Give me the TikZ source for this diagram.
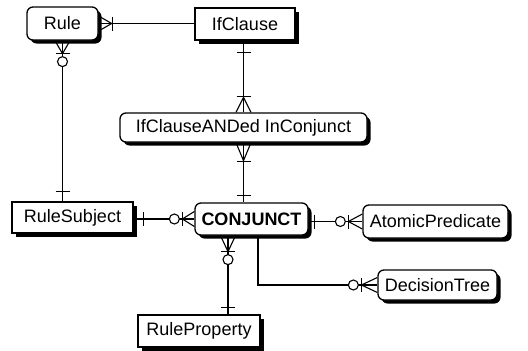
\documentclass[tikz,border=0pt]{standalone}
\usepackage{fontspec}
\setmainfont{Liberation Sans}
\usetikzlibrary{shadows,calc}
\tikzset{
  ent/.style={draw=black, line width=1.3pt, fill=white, inner sep=0pt,
    font=\fontsize{18}{20}\selectfont,
    drop shadow={shadow xshift=3.5pt, shadow yshift=-3.5pt, opacity=1, fill=black}},
  rent/.style={ent, rounded corners=6pt},
  conn/.style={line width=1.1pt},
  pics/crowbar/.style={code={
    \draw[conn] (0,-7.5) -- (#1,0) -- (0,7.5);
    \draw[conn] (0,0) -- (#1,0);
    \draw[conn] (#1+1,-7) -- (#1+1,7);}},
  pics/crowbaro/.style={code={
    \draw[conn] (0,-7.5) -- (#1,0) -- (0,7.5);
    \draw[conn] (0,0) -- (#1,0);
    \draw[conn] (#1,-7) -- (#1,7);
    \draw[conn, fill=white] (#1+8,0) circle (5);}},
  pics/onebar/.style={code={
    \draw[conn] (#1,-7) -- (#1,7);}}
}
\begin{document}
\begin{tikzpicture}[x=1pt,y=-1pt]
\useasboundingbox (0,0) rectangle (528,351);

\node[rent, minimum width=71pt, minimum height=33pt] (rule) at (62.5,23.5) {Rule};
\node[ent, minimum width=100pt, minimum height=32pt] (ifc) at (245,24) {IfClause};
\node[rent, minimum width=247pt, minimum height=29pt] (anded) at (243.5,127.5) {IfClauseANDed InConjunct};
\node[rent, minimum width=113pt, minimum height=32pt, font=\fontsize{18}{20}\selectfont\bfseries] (conj) at (251.5,219) {CONJUNCT};
\node[ent, minimum width=121pt, minimum height=31pt] (rs) at (72.5,217.5) {RuleSubject};
\node[ent, minimum width=122pt, minimum height=32pt] (rp) at (199,331) {RuleProperty};
\node[rent, minimum width=145pt, minimum height=33pt] (ap) at (435.5,221.5) {AtomicPredicate};
\node[rent, minimum width=119pt, minimum height=30pt] (dt) at (437.5,285) {DecisionTree};

% Rule -- IfClause
\draw[conn] (rule.east) -- (rule.east -| ifc.west);
\pic at (rule.east) {crowbar=13};

% Rule -- RuleSubject
\draw[conn] (rule.south) -- (rule.south |- rs.north);
\pic[rotate=-90] at (rule.south) {crowbaro=13};
\pic[rotate=90] at (rule.south |- rs.north) {onebar=10};

% IfClause -- IfClauseANDed
\draw[conn] (anded.north |- ifc.south) -- (anded.north);
\pic[rotate=-90] at (anded.north |- ifc.south) {onebar=12};
\pic[rotate=90] at (anded.north) {crowbar=15};

% IfClauseANDed -- CONJUNCT
\draw[conn] (anded.south) -- (anded.south |- conj.north);
\pic[rotate=-90] at (anded.south) {crowbar=18};
\pic[rotate=90] at (anded.south |- conj.north) {onebar=7};

% RuleSubject -- CONJUNCT
\draw[conn] (conj.west -| rs.east) -- (conj.west);
\pic at (conj.west -| rs.east) {onebar=10};
\pic[rotate=180] at (conj.west) {crowbaro=12};

% CONJUNCT -- AtomicPredicate
\draw[conn] (ap.west -| conj.east) -- (ap.west);
\pic at (ap.west -| conj.east) {onebar=6};
\pic[rotate=180] at (ap.west) {crowbaro=14};

% CONJUNCT -- RuleProperty
\draw[conn] ([xshift=-23.5pt]conj.south) -- ([xshift=-23.5pt]conj.south |- rp.north);
\pic[rotate=-90] at ([xshift=-23.5pt]conj.south) {crowbaro=16};
\pic[rotate=90] at ([xshift=-23.5pt]conj.south |- rp.north) {onebar=7};

% CONJUNCT -- DecisionTree
\draw[conn] ([xshift=6.5pt]conj.south) |- (dt.west);
\pic[rotate=180] at (dt.west) {crowbaro=16};
\end{tikzpicture}
\end{document}
